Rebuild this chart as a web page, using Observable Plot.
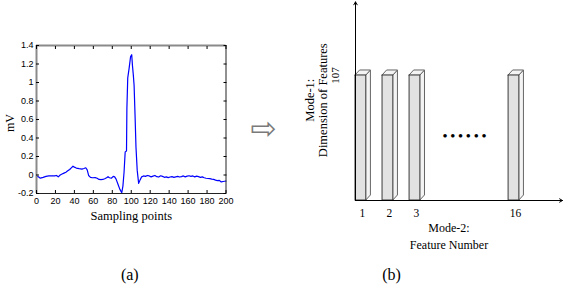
<!DOCTYPE html>
<html><head><meta charset="utf-8">
<script src="https://cdn.jsdelivr.net/npm/d3@7"></script>
<script src="https://cdn.jsdelivr.net/npm/@observablehq/plot@0.6"></script>
<style>
html,body{margin:0;padding:0;background:#fff;}
#chart{position:relative;width:565px;height:286px;overflow:hidden;background:#fff;}
#chart svg{position:absolute;left:0;top:0;}
</style></head><body><div id="chart"></div>
<script>
// ---- (a) ECG segment ----
const sampleIndex = [0,2,4,7,10,13,16,19,21,23,25,27,29,31,33,35,37,38.5,40,42,45,48,50,52,53.5,55,57,59,62,64,66,68,70,72,74,75.5,77,79,81,82.5,84,86,88,90,91.2,92.4,93.6,95,95.4,96.3,97.7,99.3,100.5,101.3,102.2,103,104,105,106.3,107.8,109.5,111,113,115,117,119,121,123,125,127,129,131,133,135,137,139,141,143,145,147,149,151,153,155,157,159,161,163,165,167,169,171,173,175,177,179,181,183,185,187,189,191,193,195,197,200];
const millivolts = [-0.01,-0.02,-0.034,-0.025,-0.015,-0.01,-0.008,-0.01,-0.005,-0.02,0.0,0.01,0.02,0.03,0.045,0.06,0.08,0.095,0.085,0.075,0.068,0.063,0.07,0.078,0.055,-0.005,-0.025,-0.03,-0.028,-0.035,-0.048,-0.05,-0.048,-0.04,-0.03,-0.018,-0.03,-0.035,-0.015,-0.02,-0.045,-0.1,-0.155,-0.19,-0.12,0.03,0.25,0.26,0.72,1.05,1.15,1.28,1.30,1.18,1.08,0.97,0.65,0.3,0.05,-0.09,-0.05,-0.02,-0.01,-0.015,-0.005,-0.01,-0.02,-0.012,-0.005,-0.018,-0.022,-0.008,-0.015,-0.025,-0.02,-0.028,-0.022,-0.018,-0.025,-0.02,-0.015,-0.022,-0.018,-0.01,-0.02,-0.012,-0.008,-0.015,-0.01,-0.02,-0.012,-0.018,-0.025,-0.02,-0.03,-0.035,-0.038,-0.04,-0.045,-0.048,-0.055,-0.06,-0.058,-0.075,-0.07,-0.065];
const xTicks = [0,20,40,60,80,100,120,140,160,180,200];
const yTicks = [-0.2,0,0.2,0.4,0.6,0.8,1,1.2,1.4];

// ---- (b) feature tensor schematic ----
const featureNumbers = [1,2,3,16];
const featureDimension = [107,107,107,107];
const featureTickLabels = ["1","2","3","16"];

const serif = "'Liberation Serif','Times New Roman',serif";
const sans = "'Liberation Sans',Arial,sans-serif";
const fmt = d => String(+(+d).toFixed(1));

const ecg = sampleIndex.map((x, i) => ({x, v: millivolts[i]}));

const left = Plot.plot({
  width: 565, height: 286,
  marginLeft: 36, marginRight: 339.5, marginTop: 45, marginBottom: 93,
  style: {background: "transparent", fontFamily: sans, fontSize: "9px", color: "#000"},
  x: {domain: [0, 200]},
  y: {domain: [-0.2, 1.4]},
  marks: [
    Plot.line(ecg, {x: "x", y: "v", stroke: "#0000ff", strokeWidth: 1.2}),
    Plot.ruleY([1.4], {stroke: "#8a8a8a", strokeWidth: 2}),
    Plot.ruleX([0], {stroke: "#8a8a8a", strokeWidth: 2}),
    Plot.ruleY([-0.2], {stroke: "#222"}),
    Plot.ruleX([200], {stroke: "#222"}),
    Plot.axisX({ticks: xTicks, tickSize: -3, tickPadding: 7, tickFormat: fmt, label: null}),
    Plot.axisX({anchor: "top", ticks: xTicks, tickSize: -3, tickFormat: () => "", label: null}),
    Plot.axisY({ticks: yTicks, tickSize: -3, tickPadding: 6, tickFormat: fmt, label: null}),
    Plot.axisY({anchor: "right", ticks: yTicks, tickSize: -3, tickFormat: () => "", label: null}),
    Plot.text(["Sampling points"], {text: d => d, frameAnchor: "bottom", lineAnchor: "bottom", dy: 26.5, fontFamily: serif, fontSize: 12.5}),
    Plot.text(["mV"], {text: d => d, frameAnchor: "left", rotate: -90, textAnchor: "middle", lineAnchor: "bottom", dx: -23, dy: 3.5, fontFamily: serif, fontSize: 12}),
    Plot.text(["(a)"], {text: d => d, frameAnchor: "bottom", lineAnchor: "bottom", dx: -1.5, dy: 86.5, fontFamily: serif, fontSize: 16}),
    Plot.text(["\u21E8"], {text: d => d, frameAnchor: "right", textAnchor: "middle", dx: 37.5, dy: 10, fontFamily: "'DejaVu Sans'", fontSize: 31, fill: "#7a7a7a"})
  ]
});

const bars = featureNumbers.map((f, i) => ({f, h: featureDimension[i], label: featureTickLabels[i]}));
const hw = 0.2, depthX = 0.17, depthY = 4.3;
const xDomain = [0.8, 3.5, 15.5, 17.8];
const xRange = [355, 428, 500, 562];
const yMax = 170;
const sideData = bars.flatMap(d => [
  {f: d.f, x: d.f + hw, y1: 0, y2: d.h},
  {f: d.f, x: d.f + hw + depthX, y1: depthY, y2: d.h + depthY}
]);
const topData = bars.flatMap(d => [
  {f: d.f, y: d.h, x1: d.f - hw, x2: d.f + hw},
  {f: d.f, y: d.h + depthY, x1: d.f - hw + depthX, x2: d.f + hw + depthX}
]);

const right = Plot.plot({
  width: 565, height: 286,
  marginLeft: 355, marginRight: 3, marginTop: 1.4, marginBottom: 86,
  style: {background: "transparent", fontFamily: serif, fontSize: "11px", color: "#000"},
  x: {type: "linear", domain: xDomain, range: xRange, axis: null},
  y: {domain: [0, yMax], axis: null},
  marks: [
    Plot.areaY(sideData, {x: "x", y1: "y1", y2: "y2", z: "f", fill: "#f4f4f4", stroke: "#666", strokeWidth: 1}),
    Plot.areaX(topData, {y: "y", x1: "x1", x2: "x2", z: "f", fill: "#f4f4f4", stroke: "#666", strokeWidth: 1}),
    Plot.rect(bars, {x1: d => d.f - hw, x2: d => d.f + hw, y1: 0, y2: "h", fill: "#e2e2e2", stroke: "#3a3a3a", strokeWidth: 1}),
    Plot.arrow([0], {x1: xDomain[0], y1: 0, x2: xDomain[0], y2: yMax, headLength: 5, stroke: "#000", strokeWidth: 1}),
    Plot.arrow([0], {x1: xDomain[0], y1: 0, x2: xDomain[xDomain.length - 1], y2: 0, headLength: 5, stroke: "#000", strokeWidth: 1}),
    Plot.text([featureDimension[0]], {x: xDomain[0], y: d => d, text: d => String(d), rotate: -90, textAnchor: "middle", lineAnchor: "bottom", dx: -16.3, fontFamily: serif, fontSize: 11}),
    Plot.text(bars, {x: "f", y: 0, text: "label", lineAnchor: "bottom", dy: 16.7, dx: 1.5, fontFamily: serif, fontSize: 11.5}),
    Plot.text(["Mode-1:\nDimension of Features"], {text: d => d, frameAnchor: "left", rotate: -90, textAnchor: "middle", lineAnchor: "bottom", dx: -28.5, dy: -1, lineHeight: 1.05, fontFamily: serif, fontSize: 12.5}),
    Plot.text(["Mode-2:\nFeature Number"], {text: d => d, frameAnchor: "bottom", textAnchor: "middle", lineAnchor: "bottom", dx: -10, dy: 48, lineHeight: 1.36, fontFamily: serif, fontSize: 12}),
    Plot.text(["\u2022 \u2022 \u2022 \u2022 \u2022 \u2022"], {text: d => d, x: (featureNumbers[2] + featureNumbers[3]) / 2, y: featureDimension[0] / 2, dy: -2.5, fontFamily: serif, fontSize: 13, fontWeight: "bold"}),
    Plot.text(["(b)"], {text: d => d, frameAnchor: "bottom", lineAnchor: "bottom", dx: -67.5, dy: 79.5, fontFamily: serif, fontSize: 16})
  ]
});

const chart = document.getElementById("chart");
chart.appendChild(left);
chart.appendChild(right);
</script>
</body></html>
